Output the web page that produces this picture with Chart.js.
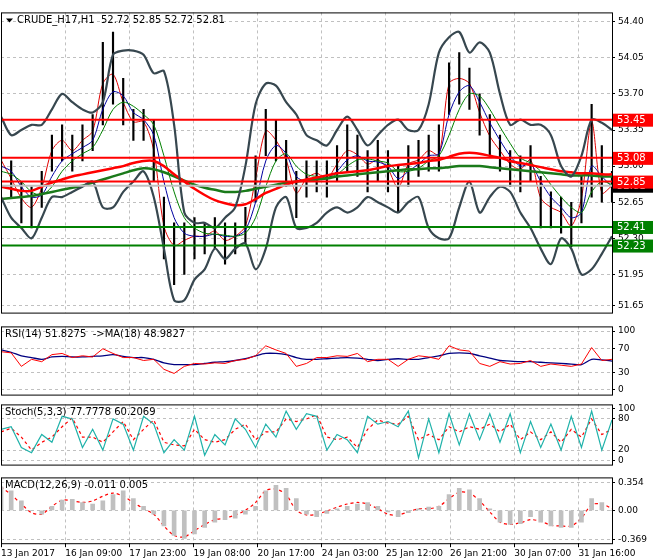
<!DOCTYPE html>
<html><head><meta charset="utf-8">
<script src="https://cdn.jsdelivr.net/npm/chart.js@4"></script>
<style>
body{margin:0;background:#fff;}
#wrap{position:relative;width:660px;height:560px;}
canvas{position:absolute;left:0;}
</style></head><body>
<div id="wrap">
<canvas id="main" style="top:4px" width="660" height="317"></canvas>
<canvas id="rsi" style="top:318px" width="660" height="85"></canvas>
<canvas id="stoch" style="top:396px" width="660" height="77"></canvas>
<canvas id="macd" style="top:469px" width="660" height="91"></canvas>
</div>
<script>
const tickLabels = ['13 Jan 2017','16 Jan 09:00','17 Jan 23:00','19 Jan 08:00','20 Jan 17:00','24 Jan 03:00','25 Jan 12:00','26 Jan 21:00','30 Jan 07:00','31 Jan 16:00'];
const tickStep = 6.3;
const highs = [53.15,53.05,52.85,52.80,52.95,53.30,53.40,53.30,53.40,53.50,54.20,54.30,53.85,53.55,53.55,53.45,52.70,52.45,52.45,52.50,52.45,52.50,52.45,52.45,52.60,53.10,53.55,53.45,53.25,52.95,53.05,53.05,53.05,53.20,53.40,53.30,53.15,53.25,53.15,53.00,53.20,53.25,53.30,53.40,54.00,54.10,53.95,53.70,53.50,53.30,53.15,53.10,53.20,52.90,52.75,52.70,52.65,52.90,53.60,53.20,52.95];
const lows = [52.90,52.70,52.45,52.40,52.60,52.95,53.05,52.95,53.05,53.15,53.40,53.60,53.40,53.25,53.25,52.85,52.10,51.85,51.95,52.10,52.15,52.20,52.05,52.15,52.25,52.65,53.10,53.05,52.80,52.50,52.70,52.75,52.70,52.85,52.95,52.90,52.75,52.85,52.75,52.55,52.80,52.90,52.95,52.95,53.50,53.60,53.55,53.30,53.10,52.95,52.80,52.75,52.85,52.40,52.40,52.35,52.22,52.45,52.70,52.65,52.65];
const closes = [53.06,52.88,52.69,52.60,52.79,53.15,53.25,53.15,53.25,53.34,53.80,53.89,53.62,53.43,53.43,53.15,52.42,52.23,52.28,52.32,52.32,52.37,52.28,52.32,52.42,52.88,53.34,53.25,53.06,52.74,52.88,52.93,52.88,53.02,53.15,53.11,53.02,53.06,52.97,52.79,53.02,53.06,53.15,53.11,53.80,53.85,53.80,53.52,53.29,53.15,53.02,52.97,53.06,52.69,52.60,52.55,52.42,52.69,53.43,52.74,52.81];
const bandUpper = [53.48,53.30,53.35,53.40,53.40,53.55,53.70,53.62,53.55,53.52,53.62,54.08,54.12,54.12,54.08,53.90,53.92,53.40,52.55,52.45,52.45,52.40,52.50,52.60,53.00,53.60,53.80,53.78,53.62,53.50,53.30,53.25,53.20,53.35,53.48,53.35,53.20,53.30,53.40,53.45,53.35,53.35,53.60,54.10,54.25,54.30,54.10,54.20,54.10,53.70,53.40,53.45,53.40,53.40,53.30,53.00,52.90,53.10,53.45,53.42,53.35];
const bandLower = [52.70,52.50,52.40,52.30,52.50,52.70,52.70,52.75,52.80,52.85,52.60,52.60,52.75,52.85,52.95,52.70,52.20,51.70,51.70,51.90,52.00,52.20,52.10,52.20,52.25,52.00,52.20,52.60,52.70,52.40,52.40,52.45,52.55,52.60,52.55,52.60,52.70,52.65,52.60,52.55,52.65,52.70,52.40,52.30,52.30,52.60,52.85,52.55,52.70,52.80,52.75,52.55,52.40,52.20,52.05,52.30,52.20,51.95,52.00,52.15,52.32];
const maSlowRed = [52.80,52.78,52.76,52.76,52.80,52.84,52.87,52.90,52.92,52.94,52.96,52.98,53.00,53.03,53.05,53.05,53.00,52.92,52.85,52.78,52.72,52.67,52.64,52.62,52.63,52.68,52.74,52.78,52.82,52.85,52.87,52.89,52.91,52.93,52.94,52.95,52.96,52.98,53.00,53.01,53.02,53.03,53.05,53.06,53.09,53.12,53.13,53.12,53.10,53.08,53.05,53.03,53.01,52.99,52.97,52.95,52.94,52.93,52.93,52.92,52.92];
const maSlowGreen = [52.68,52.69,52.70,52.71,52.73,52.75,52.77,52.79,52.81,52.84,52.87,52.90,52.93,52.96,52.98,52.97,52.94,52.90,52.86,52.82,52.79,52.77,52.75,52.75,52.76,52.78,52.80,52.82,52.84,52.85,52.86,52.87,52.88,52.90,52.91,52.92,52.93,52.94,52.95,52.96,52.97,52.97,52.98,52.98,52.99,53.00,53.00,53.00,52.99,52.98,52.97,52.96,52.95,52.94,52.93,52.92,52.91,52.91,52.91,52.90,52.90];
const maFastBlue = [53.00,52.95,52.80,52.70,52.72,52.90,53.05,53.12,53.18,53.25,53.55,53.72,53.68,53.52,53.45,53.30,52.85,52.50,52.35,52.32,52.32,52.34,52.32,52.32,52.38,52.65,53.05,53.20,53.12,52.90,52.85,52.88,52.88,52.95,53.06,53.10,53.05,53.04,53.00,52.88,52.95,53.02,53.10,53.12,53.50,53.72,53.78,53.62,53.42,53.25,53.10,53.00,53.02,52.85,52.70,52.60,52.50,52.55,53.00,52.90,52.80];
const maMidGreen = [52.95,52.92,52.85,52.75,52.72,52.80,52.95,53.05,53.12,53.18,53.35,53.55,53.62,53.58,53.50,53.40,53.10,52.75,52.50,52.40,52.35,52.34,52.33,52.32,52.35,52.50,52.80,53.05,53.12,53.00,52.92,52.90,52.89,52.92,53.00,53.06,53.07,53.05,53.03,52.95,52.95,52.98,53.05,53.10,53.30,53.55,53.70,53.68,53.55,53.38,53.22,53.08,53.03,52.95,52.82,52.70,52.60,52.55,52.75,52.85,52.82];
const levelPrices = [53.45,53.08,52.85,52.41,52.23];
const levelColors = ['#ff0000','#ff0000','#ff0000','#008000','#008000'];
const lastPrice = 52.81;
const priceTicks = [54.40,54.05,53.70,53.35,53.00,52.65,52.30,51.95,51.65];
const rsi = [65,63,40,52,48,60,62,55,58,56,70,62,55,55,50,52,35,28,40,45,44,46,45,50,52,58,75,68,62,40,45,55,55,58,57,62,48,52,52,40,52,58,56,52,75,68,66,45,40,48,44,45,50,40,44,42,40,44,72,50,52];
const rsiMa = [68,64,58,55,52,56,57,56,56,57,58,60,57,55,55,52,46,43,43,43,45,47,48,50,53,58,62,62,60,55,52,52,53,54,55,54,52,50,52,53,52,52,55,58,62,63,62,58,54,50,49,48,48,47,46,45,44,43,52,51,49];
const stochMain = [60,65,25,15,50,35,85,80,25,60,20,80,70,20,85,70,15,40,20,85,10,50,30,80,60,25,70,45,95,60,90,85,20,50,40,15,85,70,75,65,95,5,80,15,90,30,90,40,90,35,90,15,75,25,70,20,85,25,95,20,78];
const stochSignal = [55,62,45,20,35,45,65,82,45,45,35,55,75,40,60,78,35,30,28,60,40,35,40,60,70,40,55,55,80,75,80,88,45,40,45,25,60,78,72,70,85,40,50,40,65,55,65,60,70,55,70,40,55,40,55,35,60,45,80,50,60];
const macdHist = [0.30,0.25,0.12,0.0,-0.05,0.05,0.13,0.14,0.10,0.08,0.12,0.20,0.25,0.15,0.05,-0.05,-0.20,-0.32,-0.36,-0.30,-0.22,-0.15,-0.12,-0.10,-0.05,0.05,0.25,0.32,0.28,0.15,-0.05,-0.08,-0.04,0.02,0.05,0.08,0.10,0.05,-0.02,-0.08,-0.03,0.02,0.04,0.05,0.20,0.28,0.26,0.15,0.02,-0.15,-0.18,-0.17,-0.08,-0.15,-0.20,-0.22,-0.22,-0.15,0.15,0.10,0.0];
const macdSignal = [0.30,0.20,0.08,-0.03,-0.05,0.05,0.13,0.12,0.10,0.12,0.18,0.22,0.18,0.10,0.02,-0.05,-0.20,-0.32,-0.34,-0.26,-0.18,-0.12,-0.10,-0.06,0.0,0.10,0.25,0.27,0.20,0.0,-0.06,-0.05,-0.01,0.04,0.08,0.10,0.08,0.02,-0.05,-0.06,-0.02,0.02,0.02,0.05,0.15,0.23,0.22,0.12,-0.02,-0.15,-0.18,-0.16,-0.12,-0.14,-0.19,-0.20,-0.20,-0.10,0.07,0.08,0.02];

const FONT = {family: 'DejaVu Sans', size: 9};
const pts = arr => arr.map((v, i) => ({x: i, y: v}));
Chart.defaults.font = FONT;
Chart.defaults.color = '#000';

const framePlugin = {
    id: 'frame',
    afterDraw(chart) {
        const a = chart.chartArea, c = chart.ctx;
        c.save();
        c.strokeStyle = '#000';
        c.lineWidth = 1;
        c.strokeRect(a.left + 0.5, a.top + 0.5, a.right - a.left, a.bottom - a.top);
        const f = chart.options.plugins.frame;
        if (f.title) {
            c.font = '10px DejaVu Sans';
            c.fillStyle = '#000';
            c.textBaseline = 'top';
            c.fillText(f.title, a.left + (f.arrow ? 16 : 4), a.top + 3);
            if (f.arrow) {
                c.beginPath();
                c.moveTo(a.left + 5, a.top + 6);
                c.lineTo(a.left + 12, a.top + 6);
                c.lineTo(a.left + 8.5, a.top + 10);
                c.fill();
            }
        }
        c.restore();
    }
};

const labelPlugin = {
    id: 'levels',
    afterDraw(chart) {
        const y = chart.scales.y, a = chart.chartArea, c = chart.ctx;
        c.save();
        c.font = '10px DejaVu Sans';
        c.textBaseline = 'middle';
        const boxes = [[lastPrice, '#000']].concat(levelPrices.map((p, i) => [p, levelColors[i]]));
        boxes.forEach(([p, bg]) => {
            const py = y.getPixelForValue(p);
            c.fillStyle = bg;
            c.fillRect(a.right + 1, py - 6, 40, 13);
            c.fillStyle = '#fff';
            c.fillText(p.toFixed(2), a.right + 5, py + 0.5);
        });
        c.restore();
    }
};

function makeChart(id, datasets, yOpts, opts) {
    return new Chart(document.getElementById(id), {
        data: {datasets},
        plugins: [framePlugin].concat(opts.extra || []),
        options: {
            responsive: false,
            animation: false,
            layout: {padding: {top: opts.padTop || 1, bottom: 0, left: 1, right: 0}},
            plugins: {legend: {display: false}, tooltip: {enabled: false},
                      frame: {title: opts.title, arrow: opts.arrow}},
            elements: {point: {radius: 0}},
            scales: {
                x: {
                    type: 'linear', min: 0, max: 60, offset: false,
                    grid: {color: '#c0c0c0', drawTicks: !!opts.showX, tickLength: 4, tickColor: '#000', offset: false},
                    border: {display: false, dash: [3, 3]},
                    afterBuildTicks: s => { s.ticks = tickLabels.map((_, i) => ({value: i * tickStep})); },
                    ticks: {display: !!opts.showX, align: 'start', maxRotation: 0, autoSkip: false, padding: 1,
                            font: {family: 'DejaVu Sans', size: 9},
                            callback: (v) => tickLabels[Math.round(v / tickStep)]}
                },
                y: Object.assign({
                    position: 'right',
                    afterFit: s => { s.width = 48; },
                    border: {display: false, dash: [3, 3]},
                    grid: {color: '#c0c0c0', tickLength: 3, tickColor: '#000'},
                    ticks: {padding: 3, font: FONT}
                }, yOpts)
            }
        }
    });
}

const lineDs = (data, color, width, dash, tension) => ({type: 'line', data: pts(data), borderColor: color,
    borderWidth: width, borderDash: dash || [], tension: tension === undefined ? 0.3 : tension, pointRadius: 0});
const hLine = (v, color) => ({type: 'line', data: [{x: 0, y: v}, {x: 60, y: v}], borderColor: color, borderWidth: 2, pointRadius: 0});

makeChart('main', [
    hLine(lastPrice, '#c0c0c0'),
    ...levelPrices.map((p, i) => hLine(p, levelColors[i])),
    lineDs(bandUpper, '#37474f', 2.2),
    lineDs(bandLower, '#37474f', 2.2),
    lineDs(maSlowRed, '#ff0000', 2.5),
    lineDs(maSlowGreen, '#1a7a1a', 2.5),
    lineDs(maMidGreen, '#008000', 1),
    lineDs(maFastBlue, '#0000a0', 1),
    {type: 'bar', data: highs.map((h, i) => ({x: i, y: [lows[i], h]})), backgroundColor: '#000', barThickness: 1.5},
    lineDs(closes, '#e00000', 1)
], {
    min: 51.58, max: 54.49,
    afterBuildTicks: s => { s.ticks = priceTicks.map(v => ({value: v})); },
    ticks: {padding: 3, font: FONT, callback: v => v.toFixed(2)}
}, {title: 'CRUDE_H17,H1  52.72 52.85 52.72 52.81', arrow: true, padTop: 1, extra: [labelPlugin]});

makeChart('rsi', [
    lineDs(rsi, '#ff0000', 1, [], 0),
    lineDs(rsiMa, '#000080', 1.3)
], {
    min: -8, max: 108,
    afterBuildTicks: s => { s.ticks = [100, 70, 30, 0].map(v => ({value: v})); },
}, {title: 'RSI(14) 51.8275  ->MA(18) 48.9827'});

makeChart('stoch', [
    lineDs(stochMain, '#20b2aa', 1.2, [], 0),
    lineDs(stochSignal, '#ff0000', 1.2, [3, 3], 0)
], {
    min: -8, max: 108,
    afterBuildTicks: s => { s.ticks = [100, 80, 20, 0].map(v => ({value: v})); },
}, {title: 'Stoch(5,3,3) 77.7778 60.2069'});

makeChart('macd', [
    {type: 'bar', data: pts(macdHist), backgroundColor: '#c0c0c0', barThickness: 4},
    lineDs(macdSignal, '#ff0000', 1.2, [3, 3])
], {
    min: -0.42, max: 0.42,
    afterBuildTicks: s => { s.ticks = [0.354, 0, -0.369].map(v => ({value: v})); },
    ticks: {padding: 3, font: FONT, callback: v => v === 0 ? '0.00' : v.toFixed(3)}
}, {title: 'MACD(12,26,9) -0.011 0.005', showX: true});
</script>
</body></html>
